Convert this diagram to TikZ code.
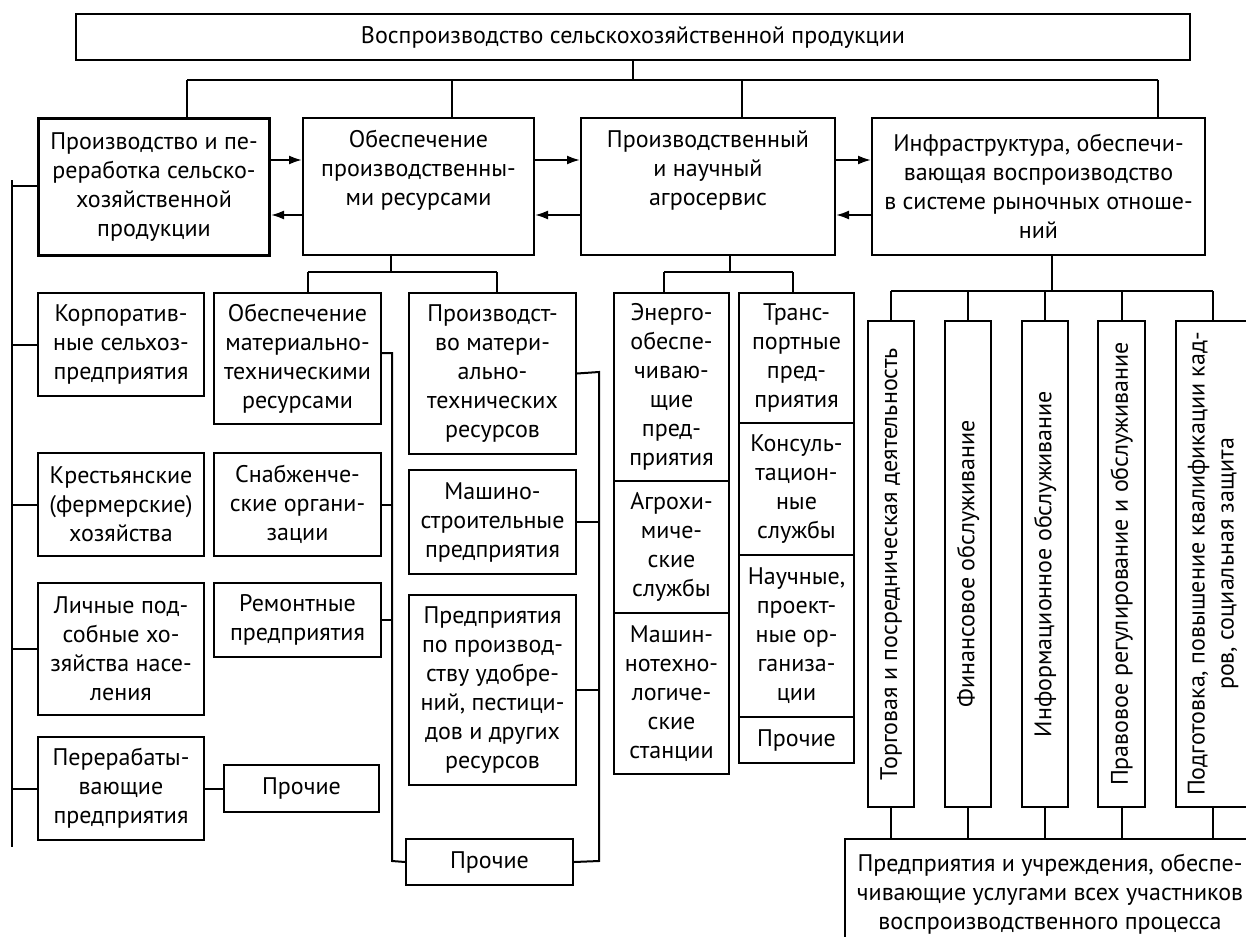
\documentclass[tikz,border=0pt]{standalone}
\usepackage{fontspec}
\setmainfont{PT Sans}
\usetikzlibrary{arrows.meta}
\newcommand\boxfont{\fontsize{24}{29}\selectfont}
\begin{document}
\begin{tikzpicture}[x=1pt,y=-1pt,
  box/.style={draw, line width=2pt, anchor=north west, inner sep=0pt, align=center, font=\boxfont},
  thickbox/.style={box, line width=3pt},
  vbox/.style={draw, line width=2pt, rotate=90, anchor=center, inner sep=0pt, align=center, font=\boxfont, minimum width=486pt},
  arr/.style={line width=2pt, -{Latex[length=13pt,width=9pt]}},
  link/.style={line width=2pt}]
\useasboundingbox (0,0) rectangle (1246,936);
\clip (0,0) rectangle (1246,936);
% top
\node[box, minimum width=1114pt, minimum height=46pt] (top) at (75,13) {Воспроизводство сельскохозяйственной продукции};
% row 2
\node[thickbox, minimum width=231pt, minimum height=137pt] (A) at (37,117) {Производство и пе-\\реработка сельско-\\хозяйственной\\продукции};
\node[box, minimum width=231pt, minimum height=137pt] (B) at (302,117) {Обеспечение\\производственны-\\ми ресурсами\\\strut};
\node[box, minimum width=254pt, minimum height=137pt] (C) at (580,117) {Производственный\\и научный\\агросервис\\\strut};
\node[box, minimum width=333pt, minimum height=137pt] (D) at (871,117) {Инфраструктура, обеспечи-\\вающая воспроизводство\\в системе рыночных отноше-\\ний};
% left column
\node[box, minimum width=166pt, minimum height=103pt] (L1) at (37,292) {Корпоратив-\\ные сельхоз-\\предприятия};
\node[box, minimum width=166pt, minimum height=103pt] (L2) at (37,452) {Крестьянские\\(фермерские)\\хозяйства};
\node[box, minimum width=166pt, minimum height=132pt] (L3) at (37,582) {Личные под-\\собные хо-\\зяйства насе-\\ления};
\node[box, minimum width=166pt, minimum height=103pt] (L4) at (37,736) {Перерабаты-\\вающие\\предприятия};
\node[box, minimum width=155pt, minimum height=47pt] (LP) at (223,764) {Прочие};
% column 2
\node[box, minimum width=167pt, minimum height=131pt] (M1) at (213,292) {Обеспечение\\материально-\\техническими\\ресурсами};
\node[box, minimum width=167pt, minimum height=103pt] (M2) at (213,452) {Снабженче-\\ские органи-\\зации};
\node[box, minimum width=167pt, minimum height=74pt] (M3) at (213,582) {Ремонтные\\предприятия};
% column 3
\node[box, minimum width=167pt, minimum height=161pt] (N1) at (408,292) {Производст-\\во матери-\\ально-\\технических\\ресурсов};
\node[box, minimum width=167pt, minimum height=104pt] (N2) at (408,469) {Машино-\\строительные\\предприятия};
\node[box, minimum width=167pt, minimum height=190pt] (N3) at (408,594) {Предприятия\\по производ-\\ству удобре-\\ний, пестици-\\дов и других\\ресурсов};
\node[box, minimum width=167pt, minimum height=46pt] (NP) at (405,838) {Прочие};
% column 4
\node[box, minimum width=115pt, minimum height=188pt] (E1) at (613,292) {Энерго-\\обеспе-\\чиваю-\\щие\\пред-\\приятия};
\node[box, minimum width=115pt, minimum height=132pt] (E2) at (613,480) {Агрохи-\\миче-\\ские\\службы};
\node[box, minimum width=115pt, minimum height=161pt] (E3) at (613,612) {Машин-\\нотехно-\\логиче-\\ские\\станции};
% column 5
\node[box, minimum width=115pt, minimum height=130pt] (T1) at (738,292) {Транс-\\портные\\пред-\\приятия};
\node[box, minimum width=115pt, minimum height=132pt] (T2) at (738,422) {Консуль-\\тацион-\\ные\\службы};
\node[box, minimum width=115pt, minimum height=162pt] (T3) at (738,554) {Научные,\\проект-\\ные ор-\\ганиза-\\ции};
\node[box, minimum width=115pt, minimum height=46pt] (T4) at (738,716) {Прочие};
% vertical boxes
\node[vbox, minimum height=46pt] (V1) at (891,564) {Торговая и посредническая деятельность};
\node[vbox, minimum height=46pt] (V2) at (968,564) {Финансовое обслуживание};
\node[vbox, minimum height=46pt] (V3) at (1045,564) {Информационное обслуживание};
\node[vbox, minimum height=47pt] (V4) at (1121.5,564) {Правовое регулирование и обслуживание};
\node[vbox, minimum height=74pt] (V5) at (1213,564) {Подготовка, повышение квалификации кад-\\ров, социальная защита};
% bottom box
\node[box, minimum width=410pt, minimum height=110pt] (Bot) at (844,838) {Предприятия и учреждения, обеспе-\\чивающие услугами всех участников\\воспроизводственного процесса};

% ---- connectors ----
\coordinate (bus) at (0,80);
\coordinate (jA) at (187,80);
\coordinate (jB) at (452,80);
\coordinate (jC) at (742,80);
\coordinate (jD) at (1158,80);
\draw[link] (top.south) -- (top.south |- bus);
\draw[link] (jA) -- (jD);
\draw[link] (jA) -- (jA |- A.north);
\draw[link] (jB) -- (jB |- B.north);
\draw[link] (jC) -- (jC |- C.north);
\draw[link] (jD) -- (jD |- D.north);
% horizontal arrows
\coordinate (yR) at (0,160);
\coordinate (yL) at (0,215);
\draw[arr] (A.east |- yR) -- (B.west |- yR);
\draw[arr] (B.west |- yL) -- (A.east |- yL);
\draw[arr] (B.east |- yR) -- (C.west |- yR);
\draw[arr] (C.west |- yL) -- (B.east |- yL);
\draw[arr] (C.east |- yR) -- (D.west |- yR);
\draw[arr] (D.west |- yL) -- (C.east |- yL);
% left bus
\coordinate (lt) at (12,180);
\coordinate (lb) at (12,847);
\coordinate (yA) at (0,186);
\draw[link] (lt) -- (lb);
\draw[link] (lt |- yA) -- (A.west |- yA);
\draw[link] (lt |- L1.west) -- (L1.west);
\draw[link] (lt |- L2.west) -- (L2.west);
\draw[link] (lt |- L3.west) -- (L3.west);
\draw[link] (lt |- L4.west) -- (L4.west);
\draw[link] (L4.east |- LP.west) -- (LP.west);
% B subtree
\coordinate (sB) at (391,272);
\coordinate (bM) at (308,272);
\coordinate (bN) at (497,272);
\draw[link] (sB |- B.south) -- (sB);
\draw[link] (bM) -- (bN);
\draw[link] (bM) -- (bM |- M1.north);
\draw[link] (bN) -- (bN |- N1.north);
% C subtree
\coordinate (sC) at (730,272);
\coordinate (bE) at (664,272);
\coordinate (bT) at (793,272);
\draw[link] (sC |- C.south) -- (sC);
\draw[link] (bE) -- (bT);
\draw[link] (bE) -- (bE |- E1.north);
\draw[link] (bT) -- (bT |- T1.north);
% D subtree
\coordinate (dbus) at (0,291);
\coordinate (sD) at (1052,291);
\draw[link] (sD |- D.south) -- (sD);
\draw[link] (V1.east |- dbus) -- (V5.east |- dbus);
\foreach \v in {V1,V2,V3,V4,V5}{
  \draw[link] (\v.east |- dbus) -- (\v.east);
  \draw[link] (\v.west) -- (\v.west |- Bot.north);
}
% column 2 bracket
\coordinate (k2t) at (392,353);
\coordinate (k2b) at (392,861);
\draw[link] (M1.east |- k2t) -- (k2t) -- (k2b) -- (NP.west);
\draw[link] (M2.east) -- (M2.east -| k2t);
\draw[link] (M3.east) -- (M3.east -| k2t);
% column 3 bracket
\coordinate (k3t) at (599,372);
\coordinate (k3b) at (599,861);
\draw[link] (N1.east) -- (k3t) -- (k3b) -- (NP.east);
\draw[link] (N2.east) -- (N2.east -| k3t);
\draw[link] (N3.east) -- (N3.east -| k3t);
\end{tikzpicture}
\end{document}
